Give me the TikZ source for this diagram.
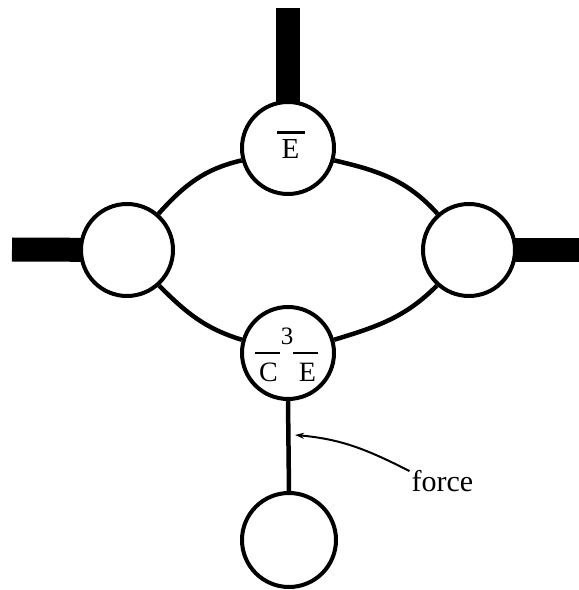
\documentclass[tikz,border=0pt]{standalone}
\usepackage{fontspec}
\setmainfont{Liberation Serif}
\usetikzlibrary{arrows.meta}
\begin{document}
\begin{tikzpicture}[x=1pt,y=1pt,
  ring/.style={circle,draw,line width=4pt,fill=white,minimum size=92pt,inner sep=0pt},
  bar/.style={line width=24pt},
  link/.style={line width=4.5pt},
  lbl/.style={inner sep=0pt,font=\fontsize{28}{28}\selectfont},
  ovl/.style={line width=3pt},
  ptr/.style={line width=2pt,-{Stealth[length=9pt,width=6pt]}}]
\useasboundingbox (0,0) rectangle (579,590);
% centres
\coordinate (tc) at (288,442);
\coordinate (lc) at (127,340);
\coordinate (rc) at (469,340);
\coordinate (mc) at (288,237);
\coordinate (bc) at (289,50);
% thick bars (behind the circles)
\coordinate (tbar) at (288,582);
\coordinate (lbar) at (12,340.5);
\coordinate (rbar) at (579,340);
\draw[bar] (tbar) -- (tc);
\draw[bar] (lbar) -- (lc);
\draw[bar] (rbar) -- (rc);
% circles
\node[ring] (t) at (tc) {};
\node[ring] (l) at (lc) {};
\node[ring] (r) at (rc) {};
\node[ring] (m) at (mc) {};
\node[ring,minimum size=94pt] (b) at (bc) {};
% arcs
\draw[link] (l.49) to[out=48,in=193] (t.195);
\draw[link] (l.-48) to[out=-45,in=163] (m.164);
\draw[link] (r.131) to[out=132,in=-13] (t.-15);
\draw[link] (r.-132) to[out=-135,in=17] (m.16);
\draw[link] (m.south) -- (b.north);
% labels
\node[lbl,font=\fontsize{29}{29}\selectfont] (tE) at (290.5,441) {E};
\draw[ovl] (277,457.5) -- (305,457.5);
\node[lbl,font=\fontsize{25}{25}\selectfont] (m3) at (287,253.5) {3};
\node[lbl] (mC) at (268.5,217.5) {C};
\node[lbl] (mE) at (307.5,217.5) {E};
\draw[ovl,line width=2.7pt] (255,237) -- (280,237);
\draw[ovl,line width=2.7pt] (293,237) -- (318,237);
% force
\node[inner sep=0pt,font=\fontsize{30}{30}\selectfont] (force) at (442.5,109) {force};
\coordinate (fs) at ([xshift=-2pt,yshift=-1pt]force.north west);
\coordinate (fp) at (295,155);
\draw[ptr] (fs) to[out=153,in=-5] (fp);
\end{tikzpicture}
\end{document}
